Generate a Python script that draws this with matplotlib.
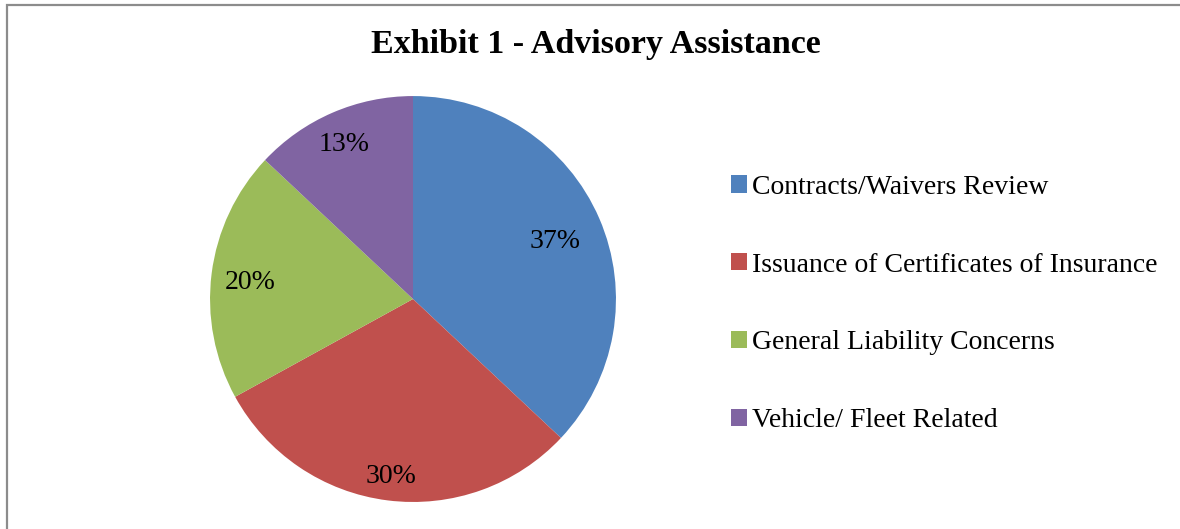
import matplotlib.pyplot as plt
from matplotlib.patches import Patch, Rectangle

labels = ["Contracts/Waivers Review", "Issuance of Certificates of Insurance",
          "General Liability Concerns", "Vehicle/ Fleet Related"]
values = [37, 30, 20, 13]
colors = ["#4F81BD", "#C0504D", "#9BBB59", "#8064A2"]
# how far out each percent label sits (fraction of radius)
label_dist = [0.76, 0.86, 0.81, 0.85]

plt.rcParams["font.family"] = ["Liberation Serif", "DejaVu Serif"]

fig = plt.figure(figsize=(11.8, 5.29), dpi=100)
fig.patches.append(Rectangle((7 / 1180, -0.1), 1.2, 1.1 - 5 / 529, transform=fig.transFigure,
                             fill=False, edgecolor="#8c8c8c", linewidth=1.6))

ax = fig.add_axes([0.178, 0.051, 0.344, 0.7675])
wedges, texts, autotexts = ax.pie(values, colors=colors, startangle=90, counterclock=False,
                                  autopct="%1.0f%%", pctdistance=0.8,
                                  textprops={"fontsize": 20, "color": "black"})
for t, d in zip(autotexts, label_dist):
    x, y = t.get_position()
    t.set_position((x / 0.8 * d, y / 0.8 * d - 0.02))
ax.set_xlim(-1, 1)
ax.set_ylim(-1, 1)
ax.set_aspect("equal")

fig.text(0.505, 0.915, "Exhibit 1 - Advisory Assistance", ha="center", va="center",
         fontsize=24.5, fontweight="bold")

handles = [Patch(facecolor=c) for c in colors]
fig.legend(handles, labels, loc="center left", bbox_to_anchor=(0.598, 0.4255),
           frameon=False, fontsize=20, handlelength=0.58, handleheight=0.58,
           handletextpad=0.18, labelspacing=1.9)

fig.savefig("out.png", dpi=100)
